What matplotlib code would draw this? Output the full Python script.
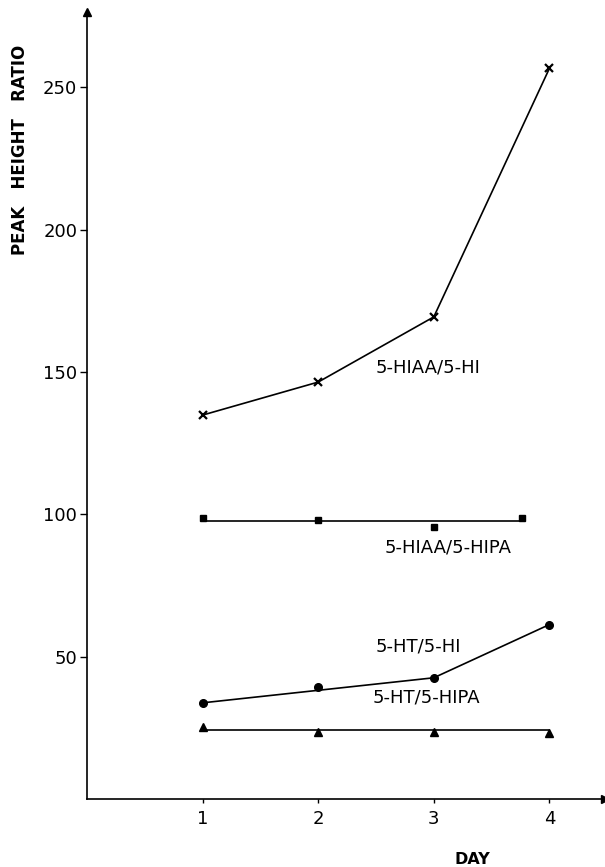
import matplotlib
matplotlib.use("Agg")
import matplotlib.pyplot as plt

# peak height ratios
days = [1, 2, 3, 4]
hiaa_hi = [134.9, 146.5, 169.4, 256.7]

hiaa_hipa_days = [1, 2, 3, 3.76]
hiaa_hipa = [98.9, 98.0, 95.5, 98.6]
hiaa_hipa_line = [97.6, 97.6]
hiaa_hipa_line_days = [1, 3.76]

ht_hi = [33.8, 39.2, 42.6, 61.3]
ht_hi_line_days = [1, 3, 4]
ht_hi_line = [33.8, 42.6, 61.3]

ht_hipa = [25.2, 23.4, 23.4, 23.2]
ht_hipa_line = [24.2, 24.2]
ht_hipa_line_days = [1, 4]

xticks = [1, 2, 3, 4]
yticks = [50, 100, 150, 200, 250]

fig = plt.figure(figsize=(6.05, 8.67), dpi=100)
ax = fig.add_axes([0.1438, 0.0784, 0.856, 0.908])
ax.set_xlim(0, 4.48)
ax.set_ylim(0, 276.6)

for s in ['top', 'right']:
    ax.spines[s].set_visible(False)
ax.spines['left'].set_linewidth(1.2)
ax.spines['bottom'].set_linewidth(1.2)

# arrow heads on the axes
ax.plot(1, 0, '>k', ms=6, transform=ax.get_yaxis_transform(), clip_on=False)
ax.plot(0, 1, '^k', ms=6, transform=ax.get_xaxis_transform(), clip_on=False)

lw = 1.2
# 5-HIAA/5-HI
ax.plot(days, hiaa_hi, color='k', lw=lw, marker='x', ms=5.5, mew=1.6)
# 5-HIAA/5-HIPA
ax.plot(hiaa_hipa_line_days, hiaa_hipa_line, color='k', lw=lw)
ax.plot(hiaa_hipa_days, hiaa_hipa, 's', color='k', ms=4.5, ls='none')
# 5-HT/5-HI
ax.plot(ht_hi_line_days, ht_hi_line, color='k', lw=lw)
ax.plot(days, ht_hi, 'o', color='k', ms=5.5, ls='none')
# 5-HT/5-HIPA
ax.plot(ht_hipa_line_days, ht_hipa_line, color='k', lw=lw)
ax.plot(days, ht_hipa, '^', color='k', ms=5.5, ls='none')

lab = dict(fontsize=13, color='k', ha='left', va='center')
ax.text(2.5, 151.5, '5-HIAA/5-HI', **lab)
ax.text(2.57, 88.5, '5-HIAA/5-HIPA', **lab)
ax.text(2.5, 53.5, '5-HT/5-HI', **lab)
ax.text(2.47, 35.5, '5-HT/5-HIPA', **lab)

ax.set_xticks(xticks)
ax.set_xticklabels([str(t) for t in xticks])
ax.set_yticks(yticks)
ax.set_yticklabels([str(t) for t in yticks])
ax.tick_params(axis='y', direction='out', length=5, width=1, labelsize=13, pad=2)
ax.tick_params(axis='x', direction='out', length=3, width=1, labelsize=13, pad=5)

fig.text(20 / 605, 1 - 150 / 867, 'PEAK   HEIGHT   RATIO', rotation=90,
         fontsize=12, fontweight='bold', ha='center', va='center')
fig.text(472 / 605, 1 - 859 / 867, 'DAY', fontsize=11.5, fontweight='bold',
         ha='center', va='center')

fig.savefig('out.png', dpi=100)
